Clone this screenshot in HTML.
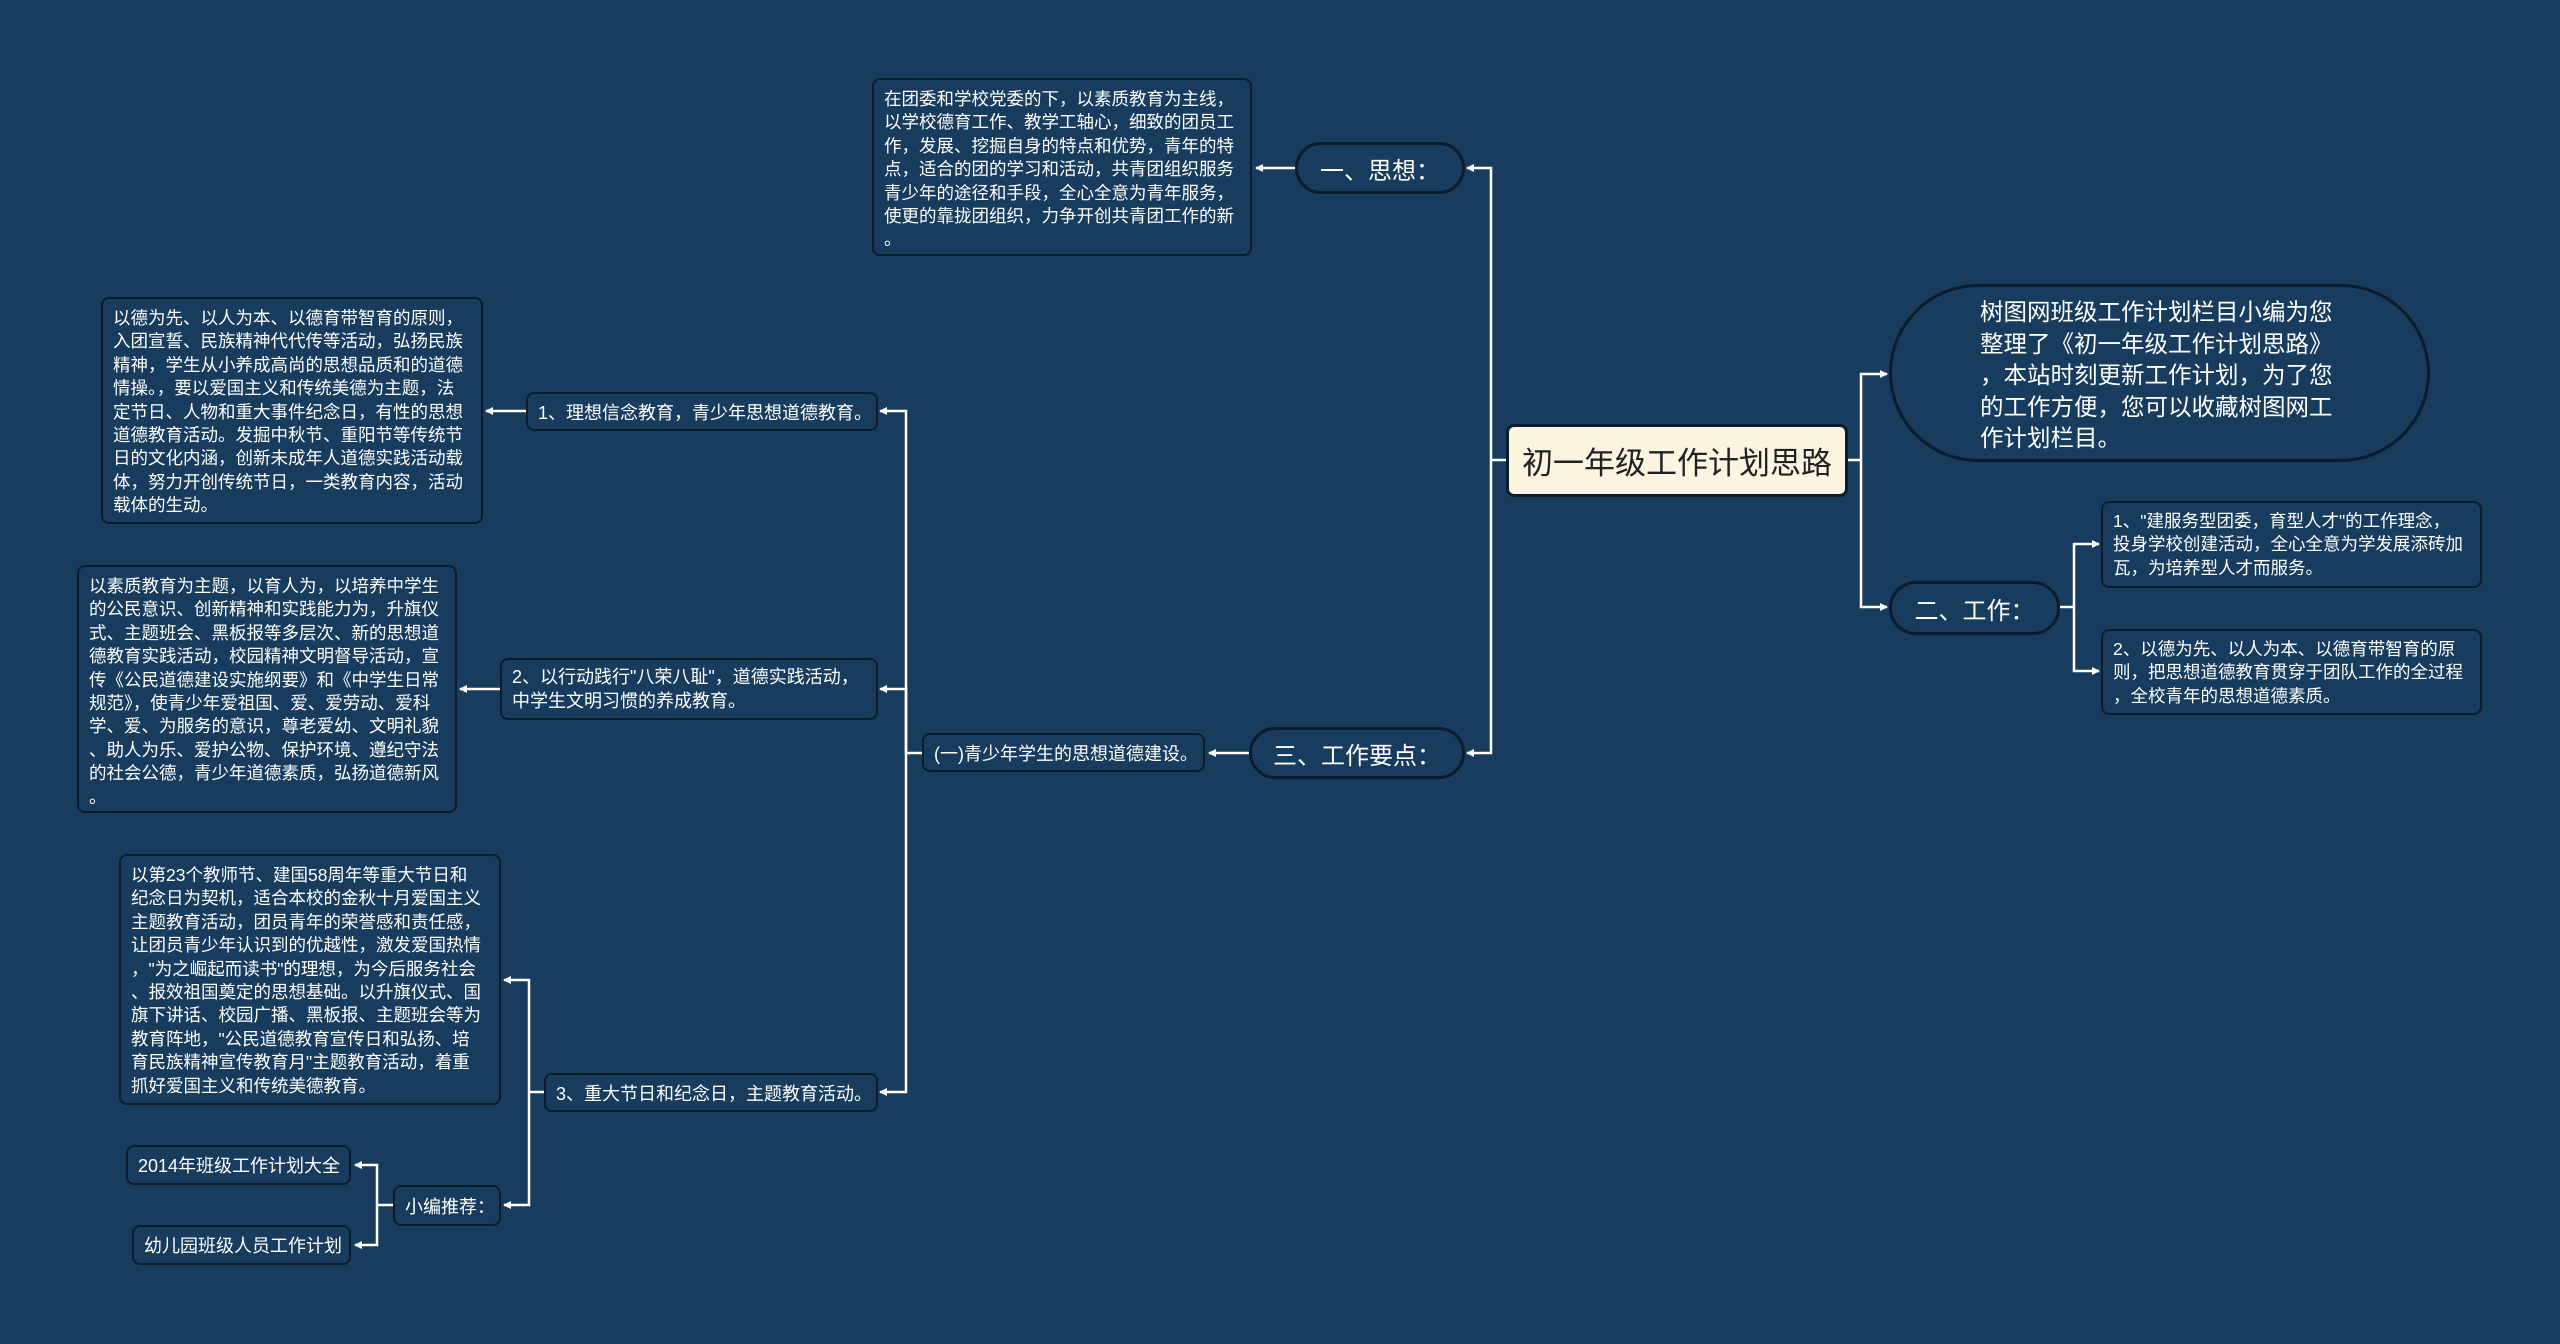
<!DOCTYPE html>
<html><head><meta charset="utf-8"><style>
body{margin:0;width:2560px;height:1344px;background:#173c5d;overflow:hidden;position:relative;font-family:"Liberation Sans","Noto Sans CJK SC",sans-serif;color:#fff}
.n{position:absolute;box-sizing:border-box;background:#173c5d;border:2px solid #0b1c2c;border-radius:8px;white-space:nowrap}
.d{font-size:17.5px;line-height:23.4px;padding:8px 10px}
.l{font-size:18px;display:flex;align-items:center;padding-left:10px}
.p{border-radius:30px;font-size:24px;display:flex;align-items:center;justify-content:center;border-width:3px}
svg{position:absolute;left:0;top:0}
</style></head><body>
<svg width="2560" height="1344">
<defs><marker id="a" markerWidth="8" markerHeight="8" refX="7" refY="4" orient="auto" markerUnits="userSpaceOnUse"><path d="M0,0 L8,4 L0,8 z" fill="#fff"/></marker></defs>
<g stroke="#fff" stroke-width="2.5" fill="none">
<path d="M1506,460 H1491"/>
<path d="M1491,460 V168 H1467" marker-end="url(#a)"/>
<path d="M1491,460 V753 H1467" marker-end="url(#a)"/>
<path d="M1295,168 H1256" marker-end="url(#a)"/>
<path d="M1249,753 H1209" marker-end="url(#a)"/>
<path d="M1848,460 H1861"/>
<path d="M1861,460 V374 H1887" marker-end="url(#a)"/>
<path d="M1861,460 V607 H1887" marker-end="url(#a)"/>
<path d="M2060,607 H2074"/>
<path d="M2074,607 V544 H2099" marker-end="url(#a)"/>
<path d="M2074,607 V671 H2099" marker-end="url(#a)"/>
<path d="M922,753 H906"/>
<path d="M906,753 V411 H880" marker-end="url(#a)"/>
<path d="M906,753 V689 H880" marker-end="url(#a)"/>
<path d="M906,753 V1092 H880" marker-end="url(#a)"/>
<path d="M526,411 H486" marker-end="url(#a)"/>
<path d="M500,689 H460" marker-end="url(#a)"/>
<path d="M544,1092 H529"/>
<path d="M529,1092 V980 H504" marker-end="url(#a)"/>
<path d="M529,1092 V1205 H504" marker-end="url(#a)"/>
<path d="M393,1205 H377"/>
<path d="M377,1205 V1165 H355" marker-end="url(#a)"/>
<path d="M377,1205 V1245 H355" marker-end="url(#a)"/>
</g></svg>

<div class="n" style="left:1506px;top:424px;width:342px;height:73px;background:#fbf4e0;color:#222;border-color:#0b1c2c;border-width:3px;font-size:31px;display:flex;align-items:center;justify-content:center">初一年级工作计划思路</div>

<div class="n d" style="left:872px;top:78px;width:380px;height:178px">在团委和学校党委的下，以素质教育为主线，<br>以学校德育工作、教学工轴心，细致的团员工<br>作，发展、挖掘自身的特点和优势，青年的特<br>点，适合的团的学习和活动，共青团组织服务<br>青少年的途径和手段，全心全意为青年服务，<br>使更的靠拢团组织，力争开创共青团工作的新<br>。</div>
<div class="n p" style="left:1295px;top:142px;width:170px;height:52px">一、思想：</div>

<div class="n" style="left:1889px;top:284px;width:541px;height:178px;border-radius:89px;border-width:3px;font-size:23.5px;line-height:31.5px;padding:10px 0 0 88px">树图网班级工作计划栏目小编为您<br>整理了《初一年级工作计划思路》<br>，本站时刻更新工作计划，为了您<br>的工作方便，您可以收藏树图网工<br>作计划栏目。</div>
<div class="n p" style="left:1889px;top:581px;width:171px;height:54px">二、工作：</div>
<div class="n d" style="left:2101px;top:501px;width:381px;height:87px;padding-top:7px">1、"建服务型团委，育型人才"的工作理念，<br>投身学校创建活动，全心全意为学发展添砖加<br>瓦，为培养型人才而服务。</div>
<div class="n d" style="left:2101px;top:629px;width:381px;height:86px;padding-top:7px">2、以德为先、以人为本、以德育带智育的原<br>则，把思想道德教育贯穿于团队工作的全过程<br>，全校青年的思想道德素质。</div>

<div class="n p" style="left:1249px;top:727px;width:216px;height:52px">三、工作要点：</div>
<div class="n l" style="left:922px;top:733px;width:283px;height:39px">(一)青少年学生的思想道德建设。</div>

<div class="n l" style="left:526px;top:392px;width:352px;height:39px">1、理想信念教育，青少年思想道德教育。</div>
<div class="n d" style="left:101px;top:297px;width:382px;height:227px">以德为先、以人为本、以德育带智育的原则，<br>入团宣誓、民族精神代代传等活动，弘扬民族<br>精神，学生从小养成高尚的思想品质和的道德<br>情操。，要以爱国主义和传统美德为主题，法<br>定节日、人物和重大事件纪念日，有性的思想<br>道德教育活动。发掘中秋节、重阳节等传统节<br>日的文化内涵，创新未成年人道德实践活动载<br>体，努力开创传统节日，一类教育内容，活动<br>载体的生动。</div>

<div class="n l" style="left:500px;top:658px;width:378px;height:62px;line-height:24px">2、以行动践行"八荣八耻"，道德实践活动，<br>中学生文明习惯的养成教育。</div>
<div class="n d" style="left:77px;top:565px;width:380px;height:248px">以素质教育为主题，以育人为，以培养中学生<br>的公民意识、创新精神和实践能力为，升旗仪<br>式、主题班会、黑板报等多层次、新的思想道<br>德教育实践活动，校园精神文明督导活动，宣<br>传《公民道德建设实施纲要》和《中学生日常<br>规范》，使青少年爱祖国、爱、爱劳动、爱科<br>学、爱、为服务的意识，尊老爱幼、文明礼貌<br>、助人为乐、爱护公物、保护环境、遵纪守法<br>的社会公德，青少年道德素质，弘扬道德新风<br>。</div>

<div class="n l" style="left:544px;top:1073px;width:334px;height:39px">3、重大节日和纪念日，主题教育活动。</div>
<div class="n d" style="left:119px;top:854px;width:382px;height:251px">以第23个教师节、建国58周年等重大节日和<br>纪念日为契机，适合本校的金秋十月爱国主义<br>主题教育活动，团员青年的荣誉感和责任感，<br>让团员青少年认识到的优越性，激发爱国热情<br>，"为之崛起而读书"的理想，为今后服务社会<br>、报效祖国奠定的思想基础。以升旗仪式、国<br>旗下讲话、校园广播、黑板报、主题班会等为<br>教育阵地，"公民道德教育宣传日和弘扬、培<br>育民族精神宣传教育月"主题教育活动，着重<br>抓好爱国主义和传统美德教育。</div>

<div class="n l" style="left:393px;top:1185px;width:108px;height:41px">小编推荐：</div>
<div class="n l" style="left:126px;top:1145px;width:225px;height:40px">2014年班级工作计划大全</div>
<div class="n l" style="left:132px;top:1225px;width:219px;height:40px">幼儿园班级人员工作计划</div>
</body></html>
